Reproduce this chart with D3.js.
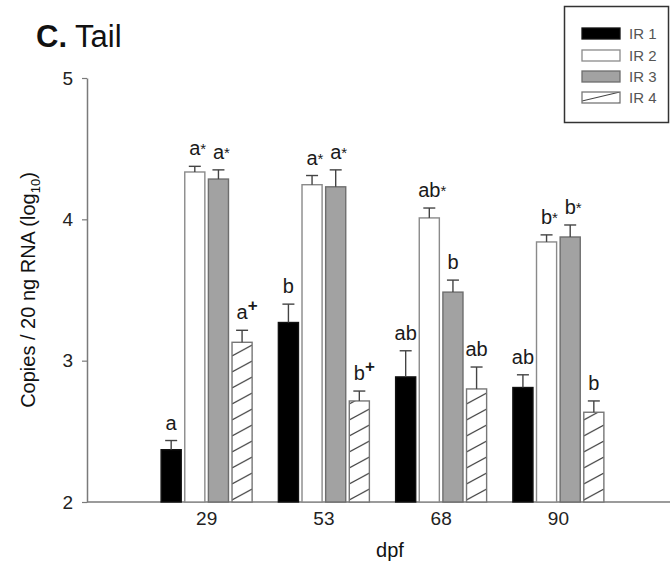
<!DOCTYPE html>
<html>
<head>
<meta charset="utf-8">
<script src="https://cdn.jsdelivr.net/npm/d3@7"></script>
<style>
  html, body { margin: 0; padding: 0; background: #fff; }
  svg { display: block; font-family: "Liberation Sans", Arial, Helvetica, sans-serif; }
</style>
</head>
<body>
<svg id="chart" width="670" height="568"></svg>
<script>
// ---- data ----
const categories = ["29", "53", "68", "90"];
const seriesNames = ["IR 1", "IR 2", "IR 3", "IR 4"];
const ir1 = [2.37, 3.27, 2.885, 2.81];
const ir1Err = [0.065, 0.13, 0.185, 0.09];
const ir2 = [4.335, 4.245, 4.01, 3.84];
const ir2Err = [0.04, 0.065, 0.07, 0.05];
const ir3 = [4.285, 4.23, 3.485, 3.875];
const ir3Err = [0.065, 0.12, 0.085, 0.085];
const ir4 = [3.13, 2.715, 2.80, 2.635];
const ir4Err = [0.085, 0.07, 0.155, 0.08];
const ir1Letters = ["a", "b", "ab", "ab"];
const ir1Marks = ["", "", "", ""];
const ir2Letters = ["a", "a", "ab", "b"];
const ir2Marks = ["*", "*", "*", "*"];
const ir3Letters = ["a", "a", "b", "b"];
const ir3Marks = ["*", "*", "", "*"];
const ir4Letters = ["a", "b", "ab", "b"];
const ir4Marks = ["+", "+", "", ""];
const yTicks = [2, 3, 4, 5];

const values = [ir1, ir2, ir3, ir4];
const errs = [ir1Err, ir2Err, ir3Err, ir4Err];
const letters = [ir1Letters, ir2Letters, ir3Letters, ir4Letters];
const marks = [ir1Marks, ir2Marks, ir3Marks, ir4Marks];

const rows = [];
categories.forEach((c, ci) => {
  seriesNames.forEach((s, si) => {
    rows.push({cat: c, series: s, si, v: values[si][ci], e: errs[si][ci],
               letter: letters[si][ci], mark: marks[si][ci]});
  });
});

// ---- layout ----
const svg = d3.select("#chart");
const axisX = 87, axisRight = 670;
const y = d3.scaleLinear().domain([2, 5]).range([502, 78]);
const x0 = d3.scaleBand().domain(categories).range([148, 617]).padding(0);
const groupW = 91;
const x1 = d3.scaleBand().domain(seriesNames).range([0, groupW]).paddingInner(0.15);
const gOff = (x0.step() - groupW) / 2;
const bw = x1.bandwidth();

const fills = {"IR 1": "#000000", "IR 2": "#ffffff", "IR 3": "#a2a2a2"};
const strokes = {"IR 1": "#111111", "IR 2": "#8a8a8a", "IR 3": "#6e6e6e", "IR 4": "#777777"};

const defs = svg.append("defs");

// title
const title = svg.append("text").attr("x", 36).attr("y", 47)
  .attr("font-size", 31).attr("fill", "#111");
title.append("tspan").attr("font-weight", "bold").text("C.");
title.append("tspan").text(" Tail");

// y axis
const yAxis = svg.append("g").attr("transform", `translate(${axisX},0)`)
  .call(d3.axisLeft(y).tickValues(yTicks).tickFormat(d3.format("d"))
        .tickSize(5).tickSizeOuter(0).tickPadding(9));
yAxis.select(".domain").attr("stroke", "#7a7a7a").attr("stroke-width", 1.5);
yAxis.selectAll(".tick line").attr("stroke", "#7a7a7a").attr("stroke-width", 1.2);
yAxis.selectAll(".tick text").attr("font-size", 19).attr("fill", "#222")
  .attr("font-family", "Liberation Sans, Arial, sans-serif");

// x axis
const xAxis = svg.append("g").attr("transform", `translate(0,${y(2)})`)
  .call(d3.axisBottom(x0).tickSize(0).tickPadding(10));
xAxis.select(".domain").remove();
xAxis.selectAll(".tick text").attr("font-size", 19).attr("fill", "#222")
  .attr("font-family", "Liberation Sans, Arial, sans-serif");
svg.append("line").attr("x1", axisX).attr("x2", axisRight)
  .attr("y1", y(2)).attr("y2", y(2)).attr("stroke", "#7a7a7a").attr("stroke-width", 1.5);

// axis titles
svg.append("text").attr("x", 390).attr("y", 557).attr("text-anchor", "middle")
  .attr("font-size", 20).attr("fill", "#111").text("dpf");
const yt = svg.append("text")
  .attr("transform", `translate(35,${(y(2) + y(5)) / 2}) rotate(-90)`)
  .attr("text-anchor", "middle").attr("font-size", 20).attr("fill", "#111");
yt.append("tspan").text("Copies / 20 ng RNA (log");
yt.append("tspan").attr("font-size", 13).attr("dy", 5).text("10");
yt.append("tspan").attr("dy", -5).text(")");

// hatch patterns (one per hatched bar so lines start at bar edge)
function hatchPattern(id, px, py, w, step, rise) {
  const p = defs.append("pattern").attr("id", id).attr("patternUnits", "userSpaceOnUse")
    .attr("x", px).attr("y", py).attr("width", w).attr("height", step);
  p.append("rect").attr("width", w).attr("height", step).attr("fill", "#fff");
  [-step, 0, step].forEach(o => {
    p.append("line").attr("x1", 0).attr("y1", step - 2 + o).attr("x2", w).attr("y2", step - 2 - rise + o)
      .attr("stroke", "#444").attr("stroke-width", 1.1);
  });
}

// bars
const bars = svg.append("g");
rows.forEach((d, i) => {
  const bx = x0(d.cat) + gOff + x1(d.series);
  const top = y(d.v);
  let fill = fills[d.series];
  if (d.series === "IR 4") {
    const id = "hatch" + i;
    hatchPattern(id, bx, y(2), bw, 16, 11);
    fill = `url(#${id})`;
  }
  bars.append("rect").attr("x", bx).attr("y", top).attr("width", bw).attr("height", y(2) - top)
    .attr("fill", fill).attr("stroke", strokes[d.series]).attr("stroke-width", 1.4);
  // error bar
  const cx = bx + bw / 2;
  const et = y(d.v + d.e);
  bars.append("line").attr("x1", cx).attr("x2", cx).attr("y1", top).attr("y2", et)
    .attr("stroke", "#444").attr("stroke-width", 1.4);
  bars.append("line").attr("x1", cx - 6).attr("x2", cx + 6).attr("y1", et).attr("y2", et)
    .attr("stroke", "#444").attr("stroke-width", 1.4);
  // significance label
  const t = bars.append("text").attr("y", et - 11).attr("font-size", 20).attr("fill", "#1a1a1a");
  t.append("tspan").text(d.letter);
  const lw = t.node().getComputedTextLength();
  t.attr("x", cx - lw / 2);
  if (d.mark === "*") {
    t.append("tspan").attr("font-size", 15).attr("dy", -1).text("*");
  } else if (d.mark === "+") {
    t.append("tspan").attr("font-size", 17).attr("font-weight", "bold").attr("dy", -8).text("+");
  }
});

// legend
const lg = svg.append("g");
lg.append("rect").attr("x", 564.5).attr("y", 6.5).attr("width", 104).attr("height", 116)
  .attr("fill", "#fff").attr("stroke", "#333").attr("stroke-width", 1.5);
const legY = [28, 50, 71, 92];
seriesNames.forEach((s, i) => {
  const sy = legY[i];
  let fill = fills[s];
  if (s === "IR 4") {
    hatchPattern("hatchLeg", 582, sy + 11, 38, 11, 9);
    fill = "url(#hatchLeg)";
  }
  lg.append("rect").attr("x", 582).attr("y", sy).attr("width", 38).attr("height", 11)
    .attr("fill", fill).attr("stroke", strokes[s]).attr("stroke-width", 1.3);
  lg.append("text").attr("x", 629).attr("y", sy + 11).attr("font-size", 15)
    .attr("fill", "#555").text(s);
});
</script>
</body>
</html>
